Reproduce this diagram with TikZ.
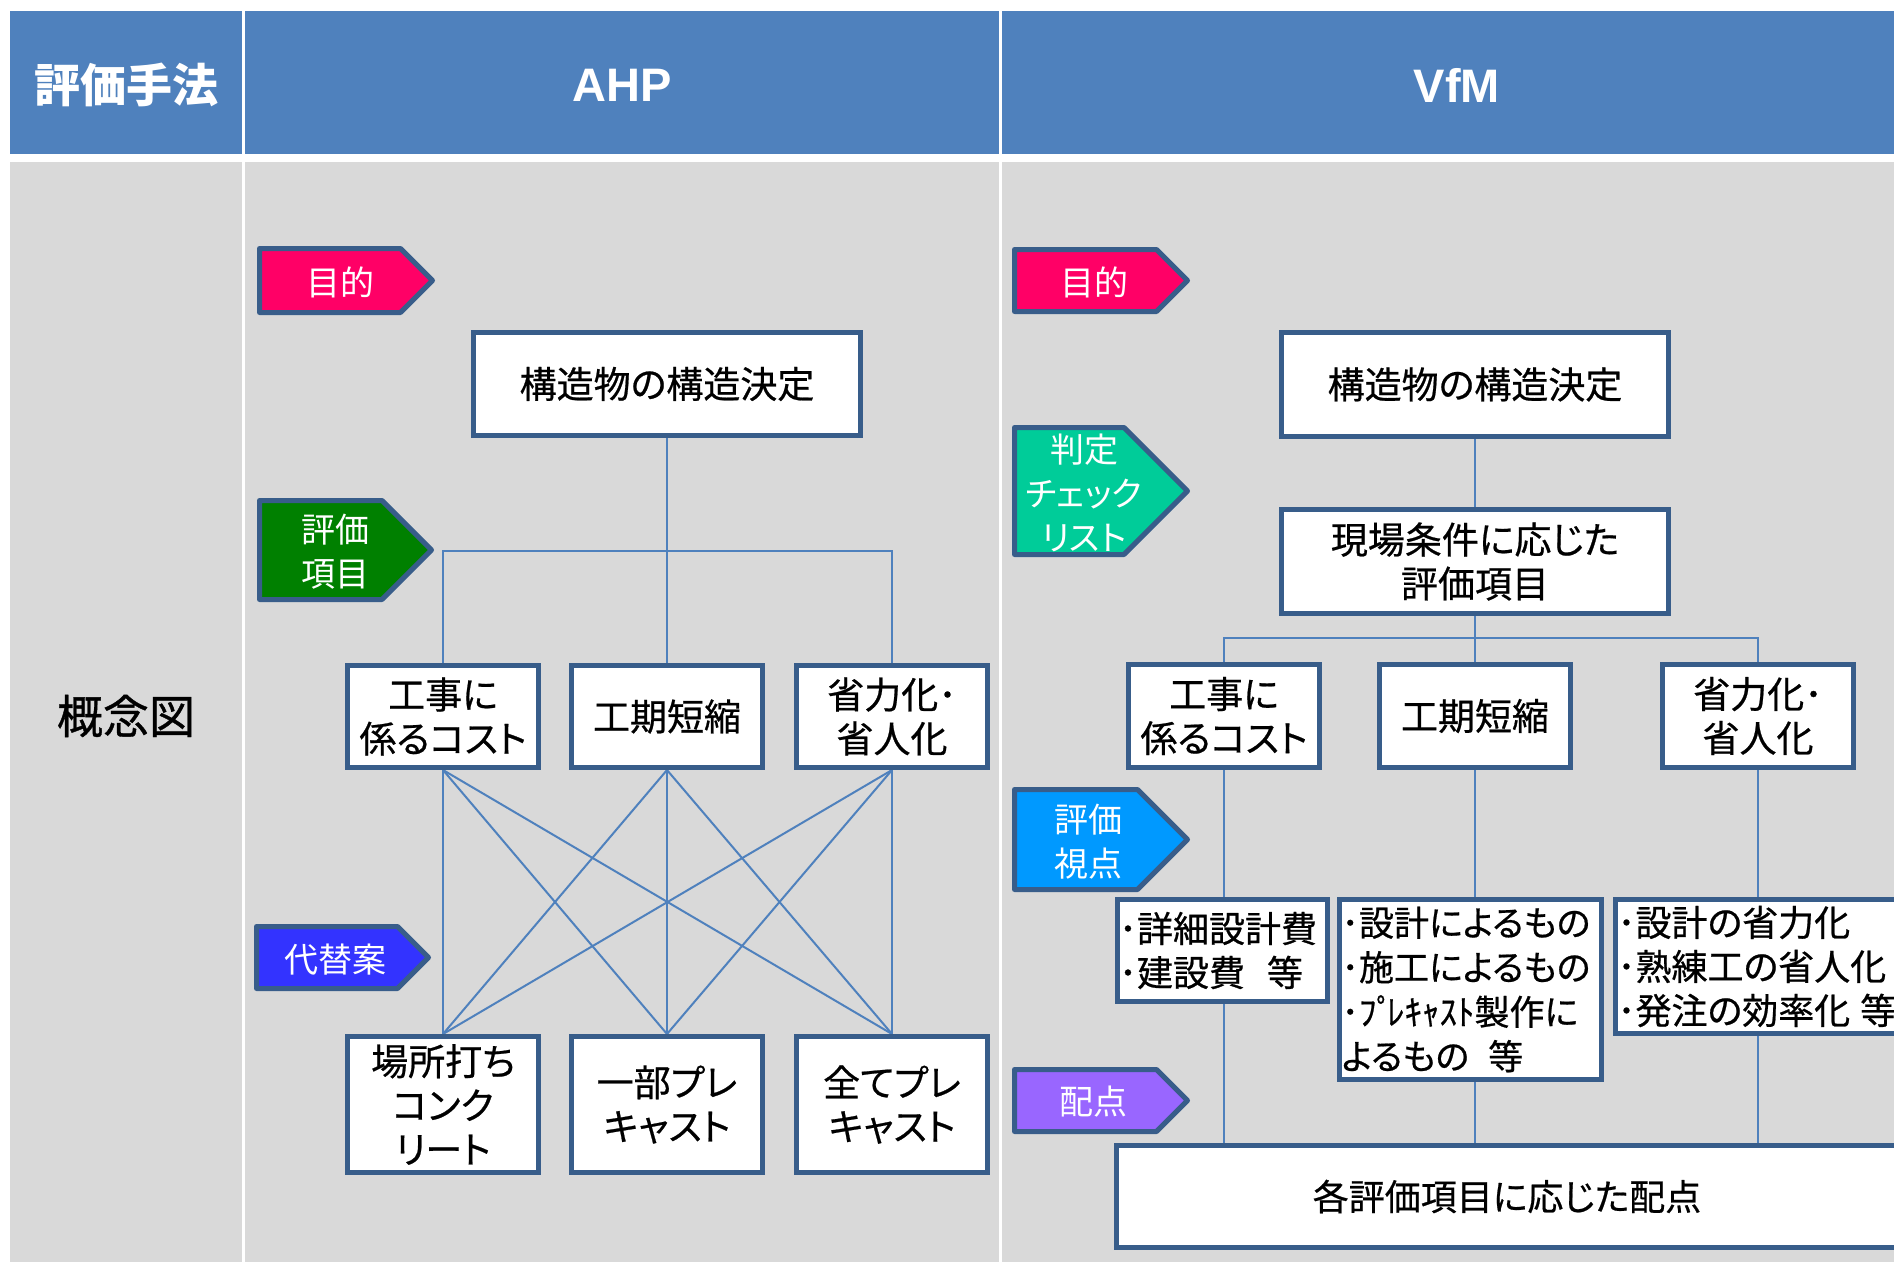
\documentclass[tikz,border=0pt]{standalone}
\usepackage{fontspec}
\setmainfont{Noto Sans CJK JP}[RawFeature=+palt, FakeBold=0.6]
\newfontfamily\jpplain{Noto Sans CJK JP}
\newfontfamily\jpbold{Noto Sans CJK JP}[FakeBold=0.8]
\newfontfamily\tagfont{Noto Sans CJK JP}[RawFeature=+palt]
\newfontfamily\latinfont{Liberation Sans}
\usetikzlibrary{calc}
\pgfdeclarelayer{back}
\pgfdeclarelayer{lines}
\pgfsetlayers{back,lines,main}
\definecolor{hdrblue}{HTML}{4F81BD}
\definecolor{cellgray}{HTML}{D9D9D9}
\definecolor{bordc}{HTML}{385D8A}
\definecolor{linec}{HTML}{4F81BD}
\definecolor{tagpink}{HTML}{FF0066}
\definecolor{taggreen}{HTML}{008000}
\definecolor{tagblue}{HTML}{3333FF}
\definecolor{tagteal}{HTML}{00CC99}
\definecolor{tagsky}{HTML}{0099FF}
\definecolor{tagviolet}{HTML}{9966FF}
% L T B X colour
\newcommand\mytag[5]{%
  \pgfmathsetmacro\mytL{#1+2.5}%
  \pgfmathsetmacro\mytT{#2+2.5}%
  \pgfmathsetmacro\mytB{#3-2.5}%
  \pgfmathsetmacro\mytX{#4-2.5}%
  \pgfmathsetmacro\mytM{(#2+#3)/2}%
  \pgfmathsetmacro\mytC{\mytX-(\mytB-\mytT)/2}%
  \draw[tagline, fill=#5] (\mytL,\mytT) -- (\mytC,\mytT) -- (\mytX,\mytM) -- (\mytC,\mytB) -- (\mytL,\mytB) -- cycle;%
}
\begin{document}
\begin{tikzpicture}[x=1pt,y=-1pt,
  box/.style={draw=bordc, line width=5pt, fill=white, inner sep=0pt, align=center, font=\fontsize{37}{44}\selectfont},
  detail/.style={draw=bordc, line width=5pt, fill=white, inner xsep=2pt, inner ysep=0pt, align=left, font=\fontsize{36}{44}\selectfont},
  conn/.style={draw=linec, line width=2pt},
  tagline/.style={draw=bordc, line width=5pt, line join=round},
  tagtext/.style={text=white, align=center, font=\tagfont\fontsize{34}{44}\selectfont, inner sep=0pt},
  hdrtext/.style={text=white, inner sep=0pt},
]
\useasboundingbox (0,0) rectangle (1894,1261);

\begin{pgfonlayer}{back}
  \fill[white] (0,0) rectangle (1894,1261);
  \fill[hdrblue] (10,11) rectangle (242,154);
  \fill[hdrblue] (244.5,11) rectangle (999,154);
  \fill[hdrblue] (1001.5,11) rectangle (1920,154);
  \fill[cellgray] (10,162) rectangle (242,1270);
  \fill[cellgray] (244.5,162) rectangle (999,1270);
  \fill[cellgray] (1001.5,162) rectangle (1920,1270);
\end{pgfonlayer}

% headers
\node[hdrtext, font=\jpplain\bfseries\fontsize{46}{50}\selectfont] (h0) at (126,85) {評価手法};
\node[hdrtext, font=\latinfont\bfseries\fontsize{47}{50}\selectfont] (h1) at (622,85) {AHP};
\node[hdrtext, font=\latinfont\bfseries\fontsize{47}{50}\selectfont] (h2) at (1457,85) {VfM};
\node[inner sep=0pt, font=\jpbold\fontsize{46}{50}\selectfont] (r0) at (126,716) {概念図};

% ---------------- AHP ----------------
\mytag{257}{246}{315}{435}{tagpink}
\node[tagtext] (ta1) at (340,282) {目的};
\mytag{257}{498}{602}{434}{taggreen}
\node[tagtext] (ta2) at (335,552) {評価\\項目};
\mytag{254}{924}{991}{431}{tagblue}
\node[tagtext] (ta3) at (335,960) {代替案};

\node[box, minimum width=387, minimum height=103] (a0) at (667,384) {構造物の構造決定};
\node[box, minimum width=191, minimum height=102] (a1) at (443,716.5) {工事に\\係るコスト};
\node[box, minimum width=191, minimum height=102] (a2) at (667,716.5) {工期短縮};
\node[box, minimum width=191, minimum height=102] (a3) at (892,716.5) {省力化･\\省人化};
\node[box, minimum width=191, minimum height=136] (b1) at (443,1104.5) {場所打ち\\コンク\\リート};
\node[box, minimum width=191, minimum height=136] (b2) at (667,1104.5) {一部プレ\\キャスト};
\node[box, minimum width=191, minimum height=136] (b3) at (892,1104.5) {全てプレ\\キャスト};

\coordinate (ahj) at (667,551);
\begin{pgfonlayer}{lines}
  \draw[conn] (a0.south) -- (a2.north);
  \draw[conn] (a1.north) |- (ahj) -| (a3.north);
  \foreach \i in {a1,a2,a3}{
    \foreach \j in {b1,b2,b3}{
      \draw[conn] (\i.south) -- (\j.north);
    }
  }
\end{pgfonlayer}

% ---------------- VfM ----------------
\mytag{1012}{247}{314}{1190}{tagpink}
\node[tagtext] (tv1) at (1094,282) {目的};
\mytag{1012}{425}{557}{1190}{tagteal}
\node[tagtext] (tv2) at (1084,492.5) {判定\\チェック\\リスト};
\mytag{1012}{787}{892}{1190}{tagsky}
\node[tagtext] (tv3) at (1088,842) {評価\\視点};
\mytag{1012}{1067}{1134}{1190}{tagviolet}
\node[tagtext] (tv4) at (1093,1102) {配点};

\node[box, minimum width=387, minimum height=104] (v0) at (1475,384.5) {構造物の構造決定};
\node[box, minimum width=387, minimum height=104] (v1) at (1475,561.5) {現場条件に応じた\\評価項目};
\node[box, minimum width=191, minimum height=103] (v2) at (1224,716) {工事に\\係るコスト};
\node[box, minimum width=191, minimum height=103] (v3) at (1475,716) {工期短縮};
\node[box, minimum width=191, minimum height=103] (v4) at (1758,716) {省力化･\\省人化};

\node[detail, minimum width=210, minimum height=102, text width=206] (d1) at (1222,950.5)
  {･詳細設計費\\･建設費\hspace{22pt}等};
\node[detail, minimum width=262, minimum height=180, text width=258, font=\fontsize{35}{44.5}\selectfont] (d2) at (1470.5,989.5)
  {･設計によるもの\\･施工によるもの\\･ﾌﾟ\kern-7ptﾚｷｬｽﾄ製作に\\よるもの\hspace{19pt}等};
\node[detail, minimum width=282, minimum height=134, text width=290] (d3) at (1762.5,966.5)
  {･設計の省力化\\･熟練工の省人化\\\mbox{･発注の効率化\hspace{10pt}等}};

\node[box, minimum width=781, minimum height=102, font=\fontsize{36}{44}\selectfont] (vb) at (1507,1196.5) {各評価項目に応じた配点};

\coordinate (vhj) at (1475,638);
\begin{pgfonlayer}{lines}
  \draw[conn] (v0.south) -- (v1.north);
  \draw[conn] (v1.south) -- (v3.north);
  \draw[conn] (v2.north) |- (vhj) -| (v4.north);
  \draw[conn] (v2.south) -- (v2.south |- vb.north);
  \draw[conn] (v3.south) -- (v3.south |- vb.north);
  \draw[conn] (v4.south) -- (v4.south |- vb.north);
\end{pgfonlayer}
\end{tikzpicture}
\end{document}
